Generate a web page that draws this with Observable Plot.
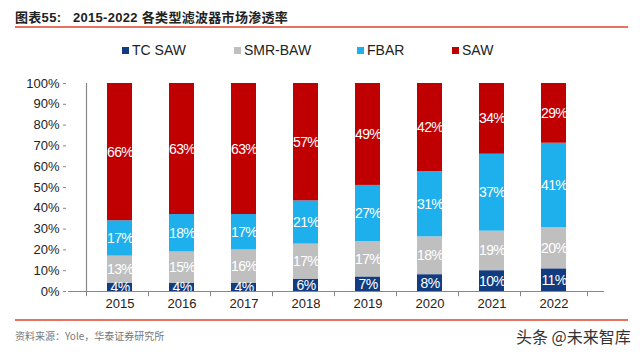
<!DOCTYPE html>
<html>
<head>
<meta charset="utf-8">
<script src="https://cdn.jsdelivr.net/npm/d3@7"></script>
<script src="https://cdn.jsdelivr.net/npm/@observablehq/plot@0.6"></script>
<style>
  html, body { margin: 0; padding: 0; background: #fff; }
  body { width: 640px; height: 356px; position: relative; overflow: hidden; font-family: "Liberation Sans", Arial, sans-serif; }
  #title { position: absolute; left: 15px; top: 7px; font-size: 13px; font-weight: bold; color: #222; font-family: "Liberation Sans", "Noto Sans CJK SC", sans-serif; white-space: nowrap; letter-spacing: 0.3px; }
  #title .num { display: inline-block; width: 58px; }
  .redline { position: absolute; left: 15px; width: 613px; height: 2px; background: #e8725f; }
  #legend { position: absolute; top: 42px; left: 0; width: 640px; height: 18px; font-size: 14px; color: #222; }
  .item { position: absolute; display: flex; align-items: center; white-space: nowrap; }
  .sw { width: 7px; height: 7px; margin-right: 3px; display: inline-block; }
  #chart { position: absolute; left: 0; top: 62px; }
  #caption { position: absolute; left: 15px; top: 328px; font-size: 10px; color: #777; font-family: "Noto Sans CJK SC", sans-serif; }
  #wm { position: absolute; left: 516px; top: 324px; font-size: 16px; color: #333; font-family: "Noto Sans CJK SC", sans-serif; }
  .barlabel text { letter-spacing: -0.7px; }
</style>
</head>
<body>
<div id="title"><span class="num">图表55:</span>2015-2022 各类型滤波器市场渗透率</div>
<div class="redline" style="top:26px"></div>
<div id="legend"></div>
<div id="chart"></div>
<div class="redline" style="top:319px;height:1.5px"></div>
<div id="caption">资料来源：Yole，华泰证券研究所</div>
<div id="wm">头条 @未来智库</div>
<script>
const years = ["2015", "2016", "2017", "2018", "2019", "2020", "2021", "2022"];
const series = ["TC SAW", "SMR-BAW", "FBAR", "SAW"];
const colors = ["#123b80", "#bfbfbf", "#1eb0ec", "#c00000"];
const tcSaw  = [4, 4, 4, 6, 7, 8, 10, 11];
const smrBaw = [13, 15, 16, 17, 17, 18, 19, 20];
const fbar   = [17, 18, 17, 21, 27, 31, 37, 41];
const saw    = [66, 63, 63, 57, 49, 42, 34, 29];
const yTicks = [0, 0.1, 0.2, 0.3, 0.4, 0.5, 0.6, 0.7, 0.8, 0.9, 1];

const valuesBySeries = [tcSaw, smrBaw, fbar, saw];
const data = [];
series.forEach((s, i) => years.forEach((y, j) => data.push({year: y, series: s, value: valuesBySeries[i][j]})));

const width = 640, height = 250;
const marginLeft = 68, marginRight = 36, marginTop = 21, marginBottom = 21;
const step = (width - marginLeft - marginRight) / years.length;

const chart = Plot.plot({
  width, height, marginLeft, marginRight, marginTop, marginBottom,
  style: {fontFamily: "'Liberation Sans', Arial, sans-serif", background: "white"},
  x: {domain: years, padding: 0.6, align: 0.5, label: null},
  y: {domain: [0, 1], label: null},
  color: {domain: series, range: colors},
  marks: [
    Plot.barY(data, Plot.stackY({x: "year", y: "value", z: "series", fill: "series", order: series, offset: "normalize"})),
    Plot.text(data, Plot.stackY({x: "year", y: "value", z: "series", order: series, offset: "normalize",
      text: d => d.value + "%", fill: "white", fontSize: 14, className: "barlabel"})),
    Plot.ruleY([0], {stroke: "#888", strokeWidth: 1.2}),
    Plot.ruleX(years.slice(0, 1), {x: d => d, dx: -step / 2, y1: 0, y2: 1, stroke: "#888", strokeWidth: 1.2}),
    Plot.ruleX(years, {x: d => d, dx: -step / 2, y1: 0, y2: -0.025, stroke: "#888"}),
    Plot.ruleX(years.slice(-1), {x: d => d, dx: step / 2, y1: 0, y2: -0.025, stroke: "#888"}),
    Plot.axisY(yTicks, {tickFormat: d3.format(".0%"), tickSize: 3, tickPadding: 4, fontSize: 13, fill: "#222", stroke: "#888", dx: -2, label: null}),
    Plot.axisX({tickSize: 0, tickPadding: 7, fontSize: 13, fill: "#222", label: null})
  ]
});
document.getElementById("chart").appendChild(chart);

const legendPos = [122, 234, 357, 452];
const legend = document.getElementById("legend");
series.forEach((s, i) => {
  const it = document.createElement("div");
  it.className = "item";
  it.style.left = legendPos[i] + "px";
  it.innerHTML = `<span class="sw" style="background:${colors[i]}"></span><span>${s}</span>`;
  legend.appendChild(it);
});
</script>
</body>
</html>
